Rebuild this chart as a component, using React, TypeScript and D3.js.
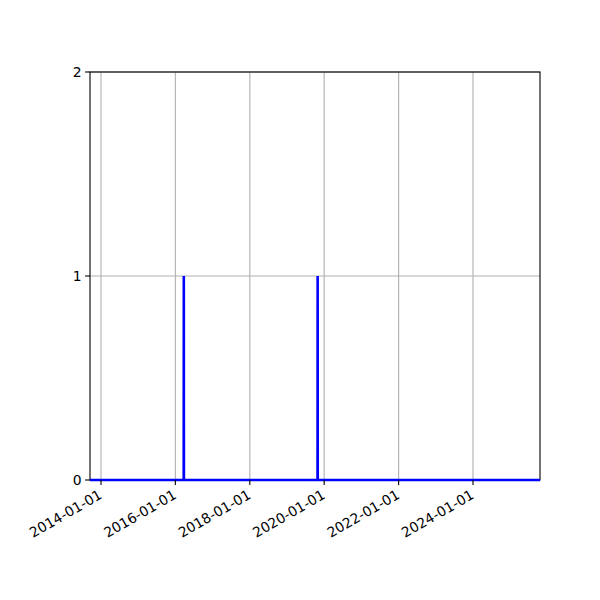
import { useEffect, useRef } from "react";
import * as d3 from "d3";

// daily counts: zero everywhere except two single-day events
const DATES = [
  "2013-09-15",
  "2016-03-23",
  "2016-03-24",
  "2016-03-25",
  "2019-10-28",
  "2019-10-29",
  "2019-10-30",
  "2025-10-20",
];
const COUNTS = [0, 0, 1, 0, 0, 1, 0, 0];
const X_TICKS = ["2014-01-01", "2016-01-01", "2018-01-01", "2020-01-01", "2022-01-01", "2024-01-01"];
const Y_TICKS = [0, 1, 2];

const W = 600;
const H = 600;
const M = { top: 72, right: 60, bottom: 120, left: 90 };
const FONT = "DejaVu Sans, sans-serif";

export default function App() {
  const svgRef = useRef<SVGSVGElement | null>(null);

  useEffect(() => {
    const svg = d3.select(svgRef.current);
    svg.selectAll("*").remove();

    const parse = d3.utcParse("%Y-%m-%d");
    const pts = DATES.map((d, i) => ({ date: parse(d)!, v: COUNTS[i] }));

    const x = d3
      .scaleUtc()
      .domain(d3.extent(pts, (d) => d.date) as [Date, Date])
      .range([M.left, W - M.right]);
    const y = d3.scaleLinear().domain([0, 2]).range([H - M.bottom, M.top]);

    const xTicks = X_TICKS.map((d) => parse(d)!);

    // grid
    const grid = svg.append("g").attr("stroke", "#b0b0b0").attr("stroke-width", 1.1);
    grid
      .selectAll("line.gx")
      .data(xTicks)
      .join("line")
      .attr("class", "gx")
      .attr("x1", (d) => x(d))
      .attr("x2", (d) => x(d))
      .attr("y1", M.top)
      .attr("y2", H - M.bottom);
    grid
      .selectAll("line.gy")
      .data(Y_TICKS)
      .join("line")
      .attr("class", "gy")
      .attr("x1", M.left)
      .attr("x2", W - M.right)
      .attr("y1", (d) => y(d))
      .attr("y2", (d) => y(d));

    // spines
    svg
      .append("rect")
      .attr("x", M.left)
      .attr("y", M.top)
      .attr("width", W - M.left - M.right)
      .attr("height", H - M.top - M.bottom)
      .attr("fill", "none")
      .attr("stroke", "#000")
      .attr("stroke-width", 1.1);

    // series
    const line = d3
      .line<{ date: Date; v: number }>()
      .x((d) => x(d.date))
      .y((d) => y(d.v));
    svg
      .append("path")
      .datum(pts)
      .attr("d", line)
      .attr("fill", "none")
      .attr("stroke", "#0000ff")
      .attr("stroke-width", 2.6)
      .attr("stroke-linejoin", "miter");

    // x ticks
    const xg = svg.append("g");
    xg.selectAll("line")
      .data(xTicks)
      .join("line")
      .attr("x1", (d) => x(d))
      .attr("x2", (d) => x(d))
      .attr("y1", H - M.bottom)
      .attr("y2", H - M.bottom + 4.9)
      .attr("stroke", "#000")
      .attr("stroke-width", 1.1);
    xg.selectAll("text")
      .data(xTicks)
      .join("text")
      .attr("transform", (d) => `translate(${x(d) - 3},${H - M.bottom + 9})  rotate(-30)`)
      .attr("text-anchor", "end")
      .attr("dy", "0.72em")
      .attr("font-size", 13.9)
      .attr("font-family", FONT)
      .attr("fill", "#000")
      .text((d) => d3.utcFormat("%Y-%m-%d")(d));

    // y ticks
    const yg = svg.append("g");
    yg.selectAll("line")
      .data(Y_TICKS)
      .join("line")
      .attr("x1", M.left - 4.9)
      .attr("x2", M.left)
      .attr("y1", (d) => y(d))
      .attr("y2", (d) => y(d))
      .attr("stroke", "#000")
      .attr("stroke-width", 1.1);
    yg.selectAll("text")
      .data(Y_TICKS)
      .join("text")
      .attr("x", M.left - 8.5)
      .attr("y", (d) => y(d))
      .attr("dy", "0.35em")
      .attr("text-anchor", "end")
      .attr("font-size", 13.9)
      .attr("font-family", FONT)
      .attr("fill", "#000")
      .text((d) => String(d));
  }, []);

  return (
    <svg
      ref={svgRef}
      width={W}
      height={H}
      style={{ position: "absolute", left: 0, top: 0, background: "#fff" }}
    />
  );
}
